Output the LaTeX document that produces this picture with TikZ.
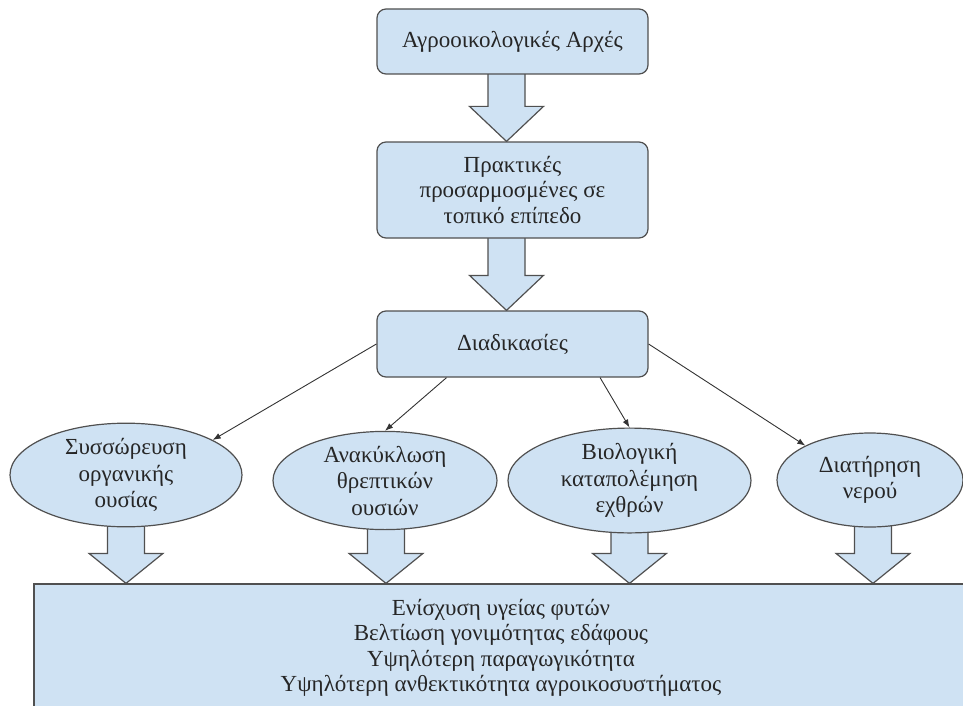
\documentclass[tikz,border=0pt]{standalone}
\usepackage{fontspec}
\setmainfont{Liberation Serif}
\usetikzlibrary{calc,shapes.geometric,arrows.meta}
\definecolor{boxfill}{HTML}{CFE2F3}
\definecolor{boxline}{HTML}{505050}
\pgfdeclarelayer{back}
\pgfsetlayers{back,main}
\newcommand{\fatarrow}[4]{%
\begin{pgfonlayer}{back}
\path[fatarr] let \p1=($(#1.south)+(#3,0)$), \p2=(#2.north) in (\x1-18.5pt,\y1+2pt) -- (\x1-18.5pt,\y2+#4) -- (\x1-37pt,\y2+#4) -- (\x1,\y2) -- (\x1+37pt,\y2+#4) -- (\x1+18.5pt,\y2+#4) -- (\x1+18.5pt,\y1+2pt) -- cycle;
\end{pgfonlayer}}

\begin{document}
\begin{tikzpicture}[x=1pt,y=-1pt,
  box/.style={rectangle,rounded corners=9pt,draw=boxline,fill=boxfill,line width=1.2pt,minimum width=271pt,align=center,text=black!85,font=\fontsize{23pt}{25.5pt}\selectfont},
  oval/.style={ellipse,inner sep=0pt,draw=boxline,fill=boxfill,line width=1.2pt,align=center,text=black!85,font=\fontsize{23pt}{26.5pt}\selectfont},
  fatarr/.style={draw=boxline,fill=boxfill,line width=1.2pt,line join=miter},
  link/.style={-{Latex[length=8pt,width=6pt]},draw=black!80,line width=0.9pt}]
\useasboundingbox (0,0) rectangle (963,706);
\clip (0,0) rectangle (963,706);

\node[box,minimum height=65pt] (princ) at (512.5,41.5) {Αγροοικολογικές Αρχές};
\node[box,minimum height=96pt] (pract) at (512.5,190) {Πρακτικές\\προσαρμοσμένες σε\\τοπικό επίπεδο};
\node[box,minimum height=66pt] (proc) at (512.5,344) {Διαδικασίες};

\node[oval,minimum width=232pt,minimum height=96pt] (org) at (126,475) {Συσσώρευση\\οργανικής\\ουσίας};
\node[oval,minimum width=224pt,minimum height=96pt] (nutr) at (385,480.5) {Ανακύκλωση\\θρεπτικών\\ουσιών};
\node[oval,minimum width=243pt,minimum height=95pt] (bio) at (629.5,480.5) {Βιολογική\\καταπολέμηση\\εχθρών};
\node[oval,minimum width=186pt,minimum height=94pt] (water) at (870,480) {Διατήρηση\\νερού};

\node[box,rounded corners=0pt,minimum width=934pt,minimum height=128pt] (result) at (501,648) {Ενίσχυση υγείας φυτών\\Βελτίωση γονιμότητας εδάφους\\Υψηλότερη παραγωγικότητα\\Υψηλότερη ανθεκτικότητα αγροικοσυστήματος};

\fatarrow{princ}{pract}{-6}{35pt}
\fatarrow{pract}{proc}{-6}{35pt}
\fatarrow{org}{result}{0}{30pt}
\fatarrow{nutr}{result}{1}{30pt}
\fatarrow{bio}{result}{0}{30pt}
\fatarrow{water}{result}{3}{30pt}

\draw[link] (proc.west) -- (org.22);
\draw[link] (proc.207) -- (nutr.north);
\draw[link] (proc.-21) -- (bio.north);
\draw[link] (proc.east) -- (water.152);
\end{tikzpicture}
\end{document}
